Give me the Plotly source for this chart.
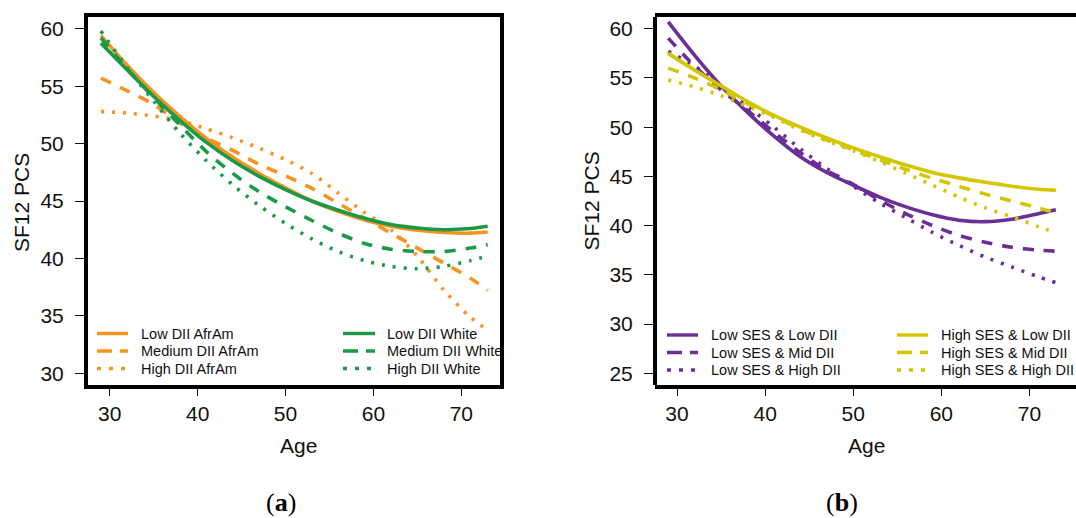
import plotly.graph_objects as go

W, H = 1076, 518

# ---------------- data ----------------
ages = [29, 32, 35, 38, 41, 44, 47, 50, 53, 56, 59, 62, 65, 68, 71, 73]

# Panel (a)
low_dii_afram = [59.4, 56.8, 54.45, 52.35, 50.45, 48.8, 47.4, 46.15, 45.0, 44.1, 43.35, 42.8, 42.45, 42.25, 42.2, 42.3]
med_dii_afram = [55.7, 54.6, 53.4, 51.8, 50.5, 49.4, 48.2, 47.2, 46.1, 44.8, 43.5, 42.2, 40.9, 39.6, 38.3, 37.2]
high_dii_afram = [52.8, 52.65, 52.4, 52.0, 51.3, 50.5, 49.6, 48.6, 47.4, 45.7, 44.0, 42.5, 40.2, 37.25, 34.9, 33.75]
low_dii_white = [58.75, 56.4, 54.1, 52.0, 50.1, 48.5, 47.15, 46.0, 45.0, 44.2, 43.5, 42.95, 42.65, 42.5, 42.6, 42.8]
med_dii_white = [59.2, 56.5, 54.0, 51.6, 49.3, 47.4, 45.8, 44.5, 43.3, 42.2, 41.3, 40.8, 40.6, 40.6, 40.9, 41.2]
high_dii_white = [59.8, 56.6, 53.7, 50.9, 48.5, 46.4, 44.6, 43.05, 41.7, 40.6, 39.8, 39.3, 39.1, 39.3, 39.8, 40.2]

# Panel (b)
low_ses_low_dii = [60.7, 57.3, 54.2, 51.5, 49.1, 47.0, 45.4, 44.1, 42.9, 41.9, 41.1, 40.55, 40.4, 40.65, 41.2, 41.6]
low_ses_mid_dii = [59.05, 56.2, 53.8, 51.7, 49.5, 47.4, 45.6, 44.2, 42.6, 41.2, 40.0, 39.0, 38.3, 37.8, 37.5, 37.4]
low_ses_high_dii = [57.7, 56.2, 54.2, 52.1, 50.0, 47.8, 45.8, 44.0, 42.3, 40.8, 39.3, 38.0, 36.8, 35.8, 34.8, 34.2]
high_ses_low_dii = [57.5, 55.8, 54.2, 52.6, 51.2, 50.0, 48.9, 47.9, 47.0, 46.15, 45.4, 44.85, 44.4, 44.0, 43.7, 43.6]
high_ses_mid_dii = [56.0, 55.0, 53.8, 52.4, 51.1, 49.8, 48.7, 47.7, 46.7, 45.7, 44.8, 44.0, 43.2, 42.5, 41.8, 41.3]
high_ses_high_dii = [54.8, 54.1, 53.2, 52.1, 51.0, 49.7, 48.6, 47.6, 46.5, 45.3, 44.1, 42.9, 41.8, 40.9, 39.9, 39.3]

x_ticks = [30, 40, 50, 60, 70]
y_ticks_a = [30, 35, 40, 45, 50, 55, 60]
y_ticks_b = [25, 30, 35, 40, 45, 50, 55, 60]

ORANGE = "#F7931E"
GREEN = "#1A9A48"
PURPLE = "#6B2E96"
YELLOW = "#D3C600"

DASH = "11px,10px"
DOT = "3px,8px"

series_a = [
    ("Low DII AfrAm", low_dii_afram, ORANGE, "solid"),
    ("Medium DII AfrAm", med_dii_afram, ORANGE, DASH),
    ("High DII AfrAm", high_dii_afram, ORANGE, DOT),
    ("Low DII White", low_dii_white, GREEN, "solid"),
    ("Medium DII White", med_dii_white, GREEN, DASH),
    ("High DII White", high_dii_white, GREEN, DOT),
]
series_b = [
    ("Low SES & Low DII", low_ses_low_dii, PURPLE, "solid"),
    ("Low SES & Mid DII", low_ses_mid_dii, PURPLE, DASH),
    ("Low SES & High DII", low_ses_high_dii, PURPLE, DOT),
    ("High SES & Low DII", high_ses_low_dii, YELLOW, "solid"),
    ("High SES & Mid DII", high_ses_mid_dii, YELLOW, DASH),
    ("High SES & High DII", high_ses_high_dii, YELLOW, DOT),
]

fig = go.Figure()

for name, vals, col, dash in series_a:
    fig.add_trace(go.Scatter(x=ages, y=vals, mode="lines", name=name,
                             line=dict(color=col, width=3.6, dash=dash, shape="spline", smoothing=0.8),
                             xaxis="x", yaxis="y", showlegend=False))
for name, vals, col, dash in series_b:
    fig.add_trace(go.Scatter(x=ages, y=vals, mode="lines", name=name,
                             line=dict(color=col, width=3.6, dash=dash, shape="spline", smoothing=0.8),
                             xaxis="x2", yaxis="y2", showlegend=False))

def px(p):
    return p / W

def py(p):
    return 1 - p / H

TOP, BOT = 15, 387
L1, R1 = 86, 502
L2 = 655

tickfont = dict(family="Liberation Sans, Arial, sans-serif", size=21, color="#111111")
common_axis = dict(showgrid=False, zeroline=False, showline=False, ticks="outside",
                   tickwidth=1.4, tickcolor="#111111", tickfont=tickfont)

fig.update_layout(
    width=W, height=H,
    margin=dict(l=0, r=0, t=0, b=0),
    paper_bgcolor="white", plot_bgcolor="white",
    xaxis=dict(domain=[px(L1), px(R1)], range=[27.3, 74.63], anchor="y",
               tickvals=x_ticks, ticklen=8, ticklabelstandoff=0, **common_axis),
    yaxis=dict(domain=[py(BOT), py(TOP)], range=[28.8, 61.2], anchor="x",
               tickvals=y_ticks_a, ticklen=10, ticklabelstandoff=7, **common_axis),
    xaxis2=dict(domain=[px(L2), 1.0], range=[27.5, 75.29], anchor="y2",
                tickvals=x_ticks, ticklen=8, ticklabelstandoff=0, **common_axis),
    yaxis2=dict(domain=[py(BOT), py(TOP)], range=[23.6, 61.4], anchor="x2",
                tickvals=y_ticks_b, ticklen=10, ticklabelstandoff=7, **common_axis),
)

frame = dict(color="black", width=4)
shapes = [
    dict(type="rect", xref="paper", yref="paper", x0=px(L1), x1=px(R1), y0=py(BOT), y1=py(TOP), line=frame),
    dict(type="line", xref="paper", yref="paper", x0=px(L2), x1=1.02, y0=py(TOP), y1=py(TOP), line=frame),
    dict(type="line", xref="paper", yref="paper", x0=px(L2), x1=1.02, y0=py(BOT), y1=py(BOT), line=frame),
    dict(type="line", xref="paper", yref="paper", x0=px(L2), x1=px(L2), y0=py(BOT - 2), y1=py(TOP + 2), line=frame),
]

annotations = []
legfont = dict(family="Liberation Sans, Arial, sans-serif", size=14.5, color="#111111")
legdash = {"solid": "solid", DASH: "15px,8px", DOT: "4px,8px"}

def add_legend(series, cols, rows):
    for i, (name, vals, col, dash) in enumerate(series):
        c = i // 3
        r = i % 3
        lx0, lx1, tx = cols[c]
        y = rows[r]
        shapes.append(dict(type="line", xref="paper", yref="paper",
                           x0=px(lx0), x1=px(lx1), y0=py(y), y1=py(y),
                           line=dict(color=col, width=3.4, dash=legdash[dash])))
        annotations.append(dict(xref="paper", yref="paper", x=px(tx), y=py(y), text=name,
                                showarrow=False, xanchor="left", yanchor="middle", font=legfont))

add_legend(series_a, [(97, 128, 139), (343, 375, 385)], [333.5, 351, 368.5])
add_legend(series_b, [(667, 698, 709), (897, 928, 939)], [335, 352.5, 370])

titlefont = dict(family="Liberation Sans, Arial, sans-serif", size=21, color="#111111")
panelfont = dict(family="Liberation Serif, Times New Roman, serif", size=26, color="black")
annotations += [
    dict(xref="paper", yref="paper", x=px(298.5), y=py(445), text="Age", showarrow=False,
         xanchor="center", yanchor="middle", font=titlefont),
    dict(xref="paper", yref="paper", x=px(866), y=py(445), text="Age", showarrow=False,
         xanchor="center", yanchor="middle", font=titlefont),
    dict(xref="paper", yref="paper", x=px(21.5), y=py(202.5), text="SF12 PCS", showarrow=False,
         textangle=-90, xanchor="center", yanchor="middle", font=titlefont),
    dict(xref="paper", yref="paper", x=px(591), y=py(201.5), text="SF12 PCS", showarrow=False,
         textangle=-90, xanchor="center", yanchor="middle", font=titlefont),
    dict(xref="paper", yref="paper", x=px(281), y=py(502), text="(<b>a</b>)", showarrow=False,
         xanchor="center", yanchor="middle", font=panelfont),
    dict(xref="paper", yref="paper", x=px(842), y=py(502), text="(<b>b</b>)", showarrow=False,
         xanchor="center", yanchor="middle", font=panelfont),
]

fig.update_layout(shapes=shapes, annotations=annotations)

fig.write_html("out.html")
